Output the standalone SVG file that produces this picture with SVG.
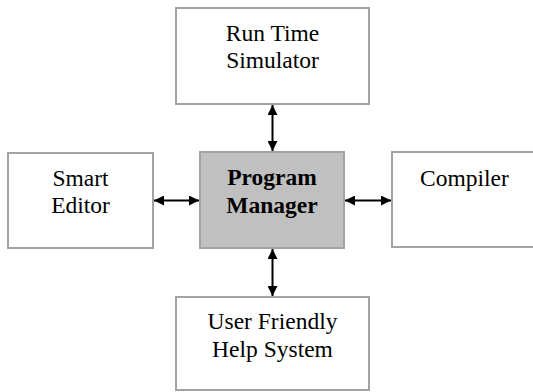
<svg xmlns="http://www.w3.org/2000/svg" width="533" height="392" viewBox="0 0 533 392">
  <style>
    .box { fill: #ffffff; stroke: #a3a3a3; stroke-width: 2; }
    .core { fill: #c0c0c0; stroke: #a3a3a3; stroke-width: 2; }
    .label { font-family: "Liberation Serif", "Times New Roman", serif; font-size: 23.5px; fill: #000000; text-anchor: middle; }
    .bold { font-weight: bold; }
    .link { stroke: #000000; stroke-width: 2; fill: none; marker-start: url(#head); marker-end: url(#head); }
  </style>
  <defs>
    <marker id="head" viewBox="0 0 10 10" refX="10" refY="5" markerWidth="10" markerHeight="10" markerUnits="userSpaceOnUse" orient="auto-start-reverse">
      <path d="M0,0 L10,5 L0,10 Z" fill="#000000"/>
    </marker>
  </defs>

  <rect width="533" height="392" fill="#ffffff"/>

  <g id="connectors">
    <line class="link" x1="272.5" y1="105" x2="272.5" y2="151"/>
    <line class="link" x1="272.5" y1="249" x2="272.5" y2="296"/>
    <line class="link" x1="154" y1="200.5" x2="199" y2="200.5"/>
    <line class="link" x1="345" y1="200.5" x2="391" y2="200.5"/>
  </g>

  <g id="run-time-simulator">
    <rect class="box" x="176" y="8" width="193" height="96"/>
    <text class="label" x="272.5" y="40.5">Run Time</text>
    <text class="label" x="272.5" y="68">Simulator</text>
  </g>

  <g id="smart-editor">
    <rect class="box" x="8" y="153" width="145" height="95"/>
    <text class="label" x="80.5" y="185.5">Smart</text>
    <text class="label" x="80.5" y="212.5">Editor</text>
  </g>

  <g id="program-manager">
    <rect class="core" x="200" y="152" width="144" height="96"/>
    <text class="label bold" x="272" y="185">Program</text>
    <text class="label bold" x="272" y="212.5">Manager</text>
  </g>

  <g id="compiler">
    <rect class="box" x="392" y="152" width="146" height="95"/>
    <text class="label" x="464.5" y="185.5">Compiler</text>
  </g>

  <g id="help-system">
    <rect class="box" x="176" y="297" width="193" height="93"/>
    <text class="label" x="272.5" y="329">User Friendly</text>
    <text class="label" x="272.5" y="356.5">Help System</text>
  </g>
</svg>
